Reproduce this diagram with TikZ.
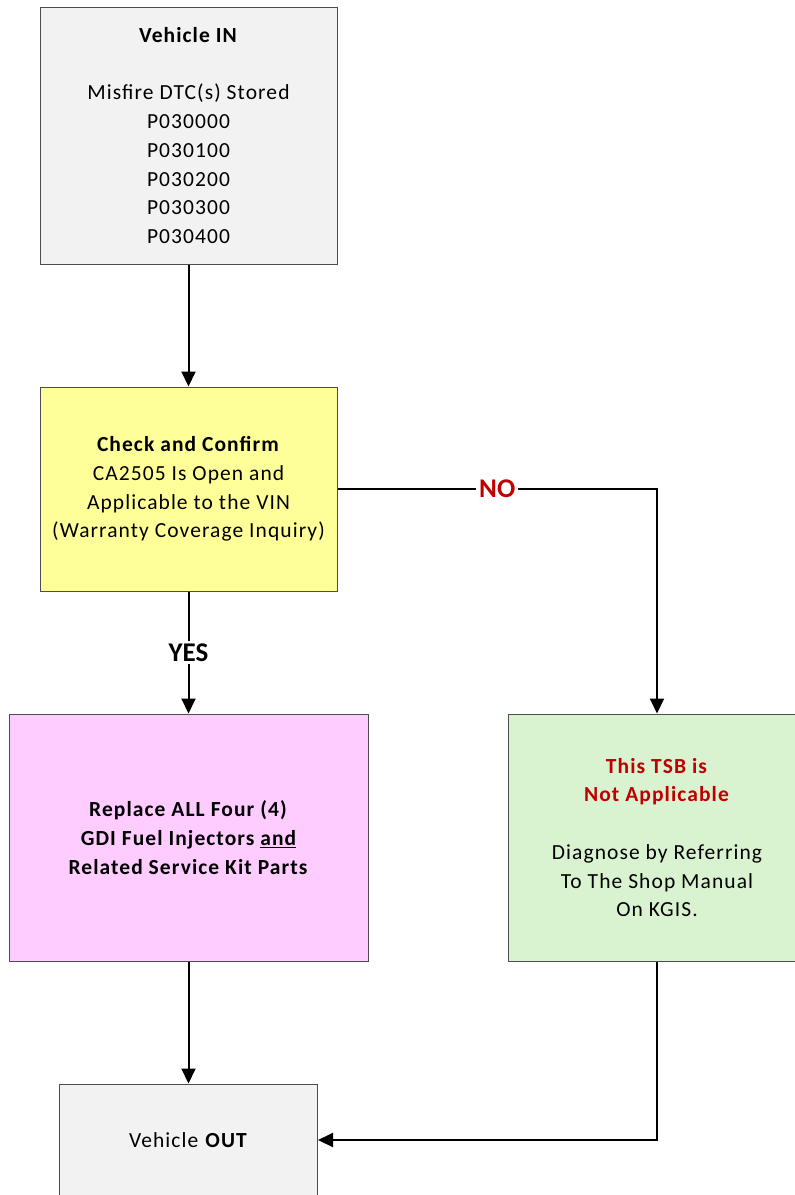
\documentclass[tikz,border=0pt]{standalone}
\usepackage{fontspec}
\setmainfont{Carlito}
\usetikzlibrary{arrows.meta}
\definecolor{boxgray}{HTML}{F2F2F2}
\definecolor{boxyellow}{HTML}{FFFF99}
\definecolor{boxpink}{HTML}{FFCCFF}
\definecolor{boxgreen}{HTML}{D9F2D0}
\definecolor{darkred}{HTML}{C00000}
\definecolor{edge}{HTML}{4D4D4D}
\tikzset{
  box/.style={draw=edge, line width=1pt, inner sep=0pt, align=center,
    font=\fontsize{21.5}{28.7}\selectfont\addfontfeatures{LetterSpace=5}, text=black},
  conn/.style={line width=2pt, -{Triangle[length=15pt,width=14pt]}},
  lab/.style={fill=white, inner sep=3pt, font=\fontsize{27}{30}\selectfont\bfseries}
}
\begin{document}
\begin{tikzpicture}[x=1pt,y=-1pt]
\useasboundingbox (0,0) rectangle (795,1195);
\fill[white] (0,0) rectangle (795,1195);
\node[box, fill=boxgray, minimum width=297pt, minimum height=257pt] (vin) at (188.5,135.5)
  {\textbf{Vehicle IN}\\[28.7pt] Misfire DTC(s) Stored\\ P030000\\ P030100\\ P030200\\ P030300\\ P030400};
\node[box, fill=boxyellow, minimum width=297pt, minimum height=204pt] (check) at (188.5,489)
  {\textbf{Check and Confirm}\\ CA2505 Is Open and\\ Applicable to the VIN\\ (Warranty Coverage Inquiry)};
\node[box, fill=boxpink, minimum width=359pt, minimum height=247pt] (repl) at (188.5,837.5)
  {\textbf{Replace ALL Four (4)}\\ \textbf{GDI Fuel Injectors \underline{and}}\\ \textbf{Related Service Kit Parts}};
\node[box, fill=boxgreen, minimum width=298pt, minimum height=247pt] (na) at (657,837.5)
  {\textcolor{darkred}{\textbf{This TSB is}}\\ \textcolor{darkred}{\textbf{Not Applicable}}\\[28.7pt] Diagnose by Referring\\ To The Shop Manual\\ On KGIS.};
\node[box, fill=boxgray, minimum width=258pt, minimum height=112pt] (vout) at (188.5,1140)
  {Vehicle \textbf{OUT}};
\draw[conn] (vin) -- (check);
\draw[conn] (check) -- node[lab] {YES} (repl);
\draw[conn] (check) -| node[lab, pos=0.25, text=darkred] {NO} (na);
\draw[conn] (repl) -- (vout);
\draw[conn] (na) |- (vout);
\end{tikzpicture}
\end{document}
